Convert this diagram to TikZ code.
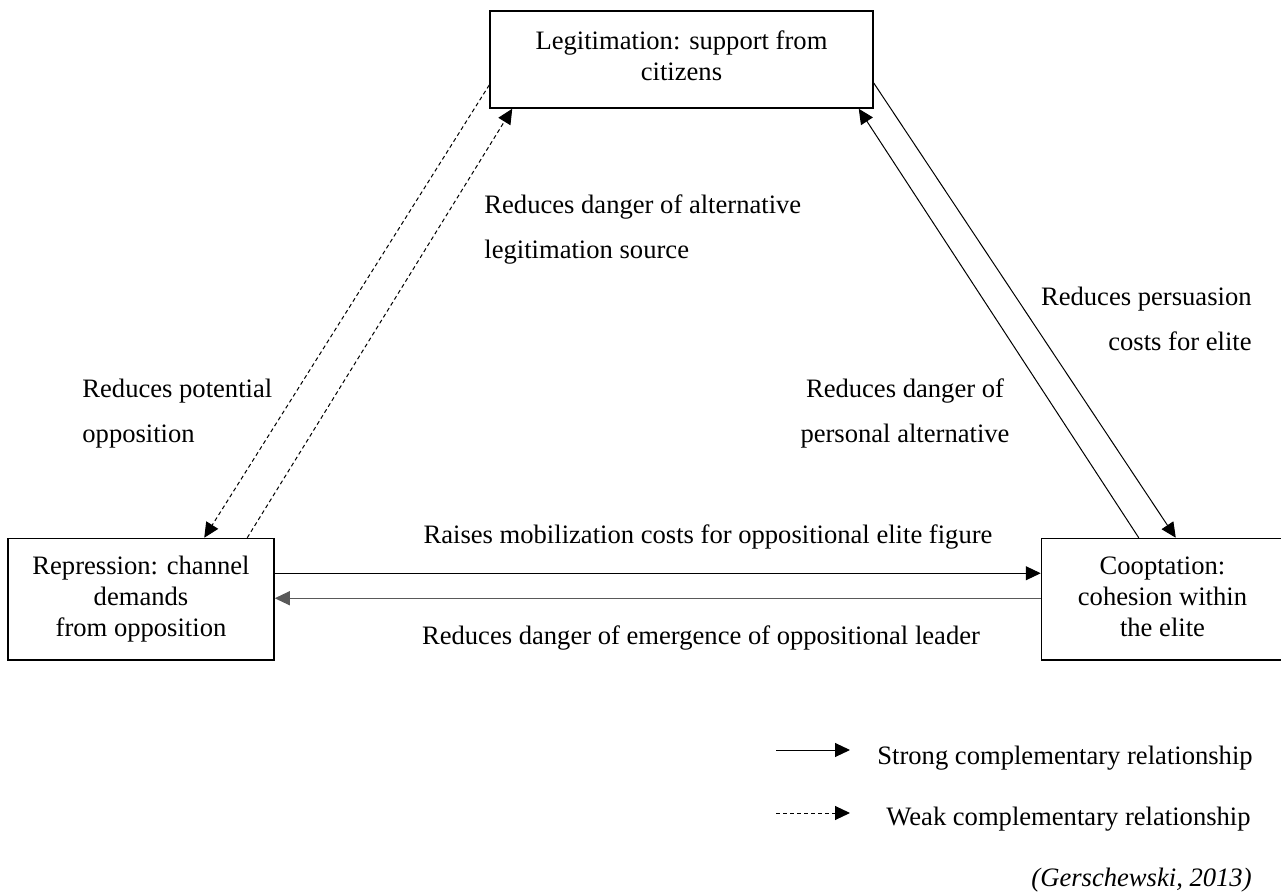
\documentclass[tikz,border=0pt]{standalone}
\usepackage{fontspec}
\setmainfont{Liberation Serif}
\usepackage{tikz}
\usetikzlibrary{positioning, arrows.meta}

\tikzset{
    box/.style={draw, line width=0.75pt, align=center, inner sep=0pt,
        font=\fontsize{13.3}{15.5}\selectfont},
    lbl/.style={inner sep=0pt, font=\fontsize{13.3}{22.5}\selectfont},
    strong/.style={line width=0.5pt, -{Triangle[length=7.5pt, width=7pt]}},
    weak/.style={strong, dash pattern=on 2pt off 1.5pt}
}

\begin{document}
\begin{tikzpicture}[x=0.5pt, y=-0.5pt]
    \useasboundingbox (0,0) rectangle (1281,893);
    % the three pillars
    \node[box, minimum width=191.5pt, minimum height=48.5pt, text depth=4pt] (legit) at (681.5,59.5)
        {Legitimation: support from\\citizens};
    \node[box, minimum width=133pt, minimum height=60.75pt] (repr) at (141,599.25)
        {Repression: channel\\demands\\from opposition};
    \node[box, minimum width=121pt, minimum height=60.75pt, text depth=2.5pt] (coopt) at (1162.5,599.25)
        {Cooptation:\\cohesion within\\the elite};

    % repression <-> legitimation
    \draw[weak] ([yshift=-12.75pt]legit.west) -- ([xshift=98.5pt]repr.north west);
    \draw[weak] ([xshift=120pt]repr.north west) -- ([xshift=11.5pt]legit.south west);
    % legitimation <-> cooptation
    \draw[strong] ([yshift=-11.75pt]legit.east) -- ([xshift=67.5pt]coopt.north west);
    \draw[strong] ([xshift=49pt]coopt.north west) -- ([xshift=-7.5pt]legit.south east);
    % repression <-> cooptation
    \draw[strong] ([yshift=13pt]repr.east) -- ([yshift=13pt]coopt.west);
    \draw[strong, black!65] ([yshift=0.5pt]coopt.west) -- ([yshift=0.5pt]repr.east);

    \node[lbl, anchor=west, align=left] (altsrc) at (484,229.5)
        {Reduces danger of alternative\\legitimation source};
    \node[lbl, anchor=west, align=left] (potopp) at (82,413.5)
        {Reduces potential\\opposition};
    \node[lbl, anchor=east, align=right] (persua) at (1252,319)
        {Reduces persuasion\\costs for elite};
    \node[lbl, align=center] (persalt) at (905,413.5)
        {Reduces danger of\\personal alternative};
    \node[lbl] (mobil) at (708,537) {Raises mobilization costs for oppositional elite figure};
    \node[lbl] (emerg) at (701,638) {Reduces danger of emergence of oppositional leader};

    % legend
    \coordinate (ls1) at (776,750);
    \coordinate (le1) at (850,750);
    \coordinate (ls2) at (776,813);
    \coordinate (le2) at (850,813);
    \draw[strong] (ls1) -- (le1);
    \draw[weak] (ls2) -- (le2);
    \node[lbl, anchor=west] (strongtxt) at (877,758) {Strong complementary relationship};
    \node[lbl, anchor=west] (weaktxt) at (886,819) {Weak complementary relationship};
    \node[lbl, anchor=east] (source) at (1252,880) {\itshape (Gerschewski, 2013)};
\end{tikzpicture}
\end{document}
